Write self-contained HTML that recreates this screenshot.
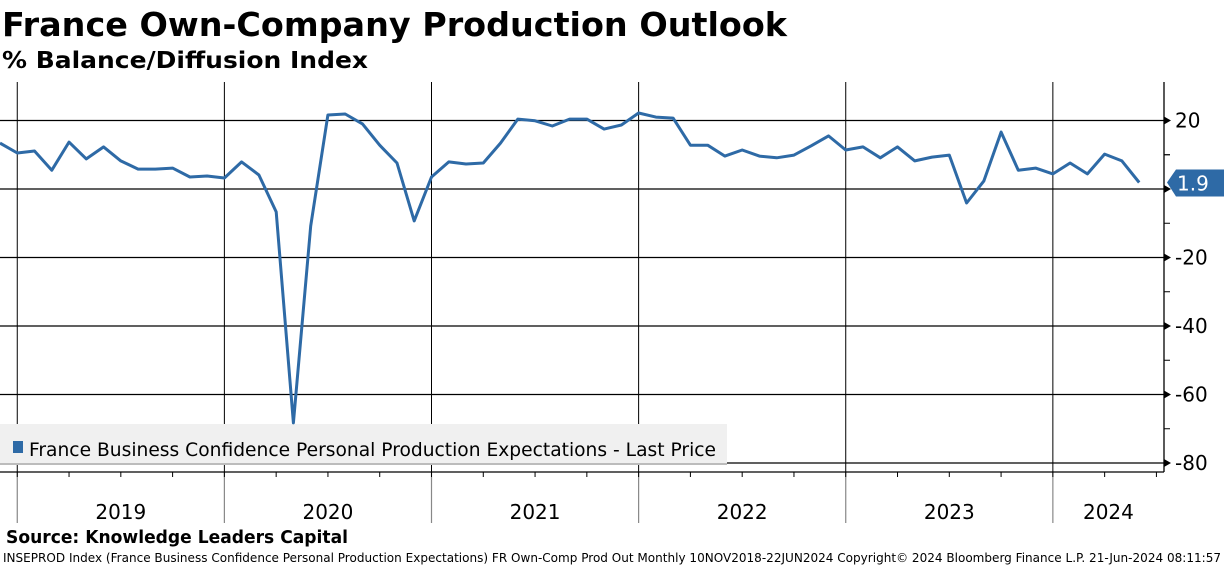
<!DOCTYPE html>
<html><head><meta charset="utf-8"><style>
html,body{margin:0;padding:0;background:#fff;}
svg{display:block;font-family:"DejaVu Sans","Liberation Sans",sans-serif;}
</style></head><body>
<svg id="chart" width="1224" height="566" viewBox="0 0 1224 566" xmlns="http://www.w3.org/2000/svg">
<text x="2" y="36" font-size="33" font-weight="bold" textLength="785" lengthAdjust="spacingAndGlyphs">France Own-Company Production Outlook</text>
<text x="2" y="68" font-size="23" font-weight="bold" textLength="366" lengthAdjust="spacingAndGlyphs">% Balance/Diffusion Index</text>
<g id="grid"></g>
<g id="axes"></g>
<rect x="0" y="424" width="727" height="41" fill="#f0f0f0"/>
<line x1="0" y1="464" x2="727" y2="464" stroke="#888" stroke-width="1"/>
<rect x="13" y="441" width="10" height="12" fill="#2e6aa6"/>
<text x="29" y="456" font-size="19" textLength="687" lengthAdjust="spacingAndGlyphs">France Business Confidence Personal Production Expectations - Last Price</text>
<g id="series"></g>
<text x="6" y="543" font-size="18" font-weight="bold" textLength="342" lengthAdjust="spacingAndGlyphs">Source: Knowledge Leaders Capital</text>
<text x="3" y="562" font-size="12" textLength="1218" lengthAdjust="spacingAndGlyphs">INSEPROD Index (France Business Confidence Personal Production Expectations) FR Own-Comp Prod Out  Monthly 10NOV2018-22JUN2024   Copyright© 2024 Bloomberg Finance L.P.    21-Jun-2024 08:11:57</text>
</svg>
<script>
const values = [13.4,10.5,11.1,5.5,13.7,8.8,12.3,8.2,5.8,5.8,6.1,3.5,3.8,3.2,7.9,4.1,-6.7,-68.3,-10.8,21.6,21.9,19.0,12.8,7.6,-9.3,3.5,7.9,7.3,7.6,13.4,20.4,19.9,18.4,20.4,20.4,17.5,18.7,22.2,21.0,20.7,12.8,12.8,9.6,11.4,9.6,9.1,9.9,12.6,15.5,11.4,12.3,9.1,12.3,8.2,9.3,9.9,-4.1,2.3,16.6,5.5,6.1,4.4,7.6,4.4,10.2,8.2,1.9];
const years = ["2019","2020","2021","2022","2023","2024"];
const yearStartIndex = [1,13,25,37,49,61];
const yTicks = [20,0,-20,-40,-60,-80];
const lastLabel = "1.9";

const NS = "http://www.w3.org/2000/svg";
const X0 = 0, DX = 17.26, PLOT_R = 1164, PLOT_T = 82, PLOT_B = 472;
const xOf = i => X0 + i*DX;
const yOf = v => 189 - v*3.425;
function mk(tag, attrs, parent){const e=document.createElementNS(NS,tag);for(const k in attrs)e.setAttribute(k,attrs[k]);parent.appendChild(e);return e;}
const grid=document.getElementById('grid'), axes=document.getElementById('axes'), series=document.getElementById('series');
const lastV = values[values.length-1];

yTicks.forEach(t=>{
  const l=mk('line',{x1:0,x2:PLOT_R,y1:yOf(t),y2:yOf(t),stroke:'#000','stroke-width':1.3},grid);
  
  
  const tri=mk('path',{d:`M${PLOT_R} ${yOf(t)-4} L${PLOT_R+7} ${yOf(t)} L${PLOT_R} ${yOf(t)+4}Z`,fill:'#000'},axes);
  
  
  if (Math.abs(t-lastV) > 8) {
    const tx=mk('text',{x:PLOT_R+11,y:yOf(t)+7,'font-size':20},axes);
    tx.textContent=t;
    
    
  }
  if (yOf(t-10) < PLOT_B) {
    const m=mk('line',{x1:PLOT_R,x2:PLOT_R+6,y1:yOf(t-10),y2:yOf(t-10),stroke:'#000','stroke-width':1},axes);
    
    
  }
});
const topMinor=mk('line',{x1:PLOT_R,x2:PLOT_R+6,y1:yOf(10),y2:yOf(10),stroke:'#000','stroke-width':1},axes);


yearStartIndex.forEach((idx,k)=>{
  const x=xOf(idx);
  const l=mk('line',{x1:x,x2:x,y1:PLOT_T,y2:PLOT_B,stroke:'#000','stroke-width':1},grid);
  
  
  const l2=mk('line',{x1:x,x2:x,y1:PLOT_B,y2:523,stroke:'#888','stroke-width':1.2},axes);
  
  
  const nx = k<years.length-1 ? xOf(yearStartIndex[k+1]) : PLOT_R;
  const tx=mk('text',{x:(x+nx)/2,y:519,'font-size':20,'text-anchor':'middle'},axes);
  tx.textContent=years[k];
  
  
});
for(let i=1;i<values.length+1;i+=3){
  const x=xOf(i);
  const q=mk('line',{x1:x,x2:x,y1:PLOT_B,y2:PLOT_B+5,stroke:'#000','stroke-width':1},axes);
  
  
}
const ax1=mk('line',{x1:PLOT_R,x2:PLOT_R,y1:PLOT_T,y2:PLOT_B,stroke:'#000','stroke-width':1.3},axes);


const ax2=mk('line',{x1:0,x2:PLOT_R,y1:PLOT_B,y2:PLOT_B,stroke:'#000','stroke-width':1.3},axes);



const pts=values.map((v,i)=>xOf(i).toFixed(1)+','+yOf(v).toFixed(1)).join(' ');
const pl=mk('polyline',{points:pts,fill:'none',stroke:'#2e6aa6','stroke-width':3,'stroke-linejoin':'round'},series);



const ly=yOf(lastV);
const tag=mk('path',{d:`M1167 ${ly} L1176 ${ly-13} L1224 ${ly-13} L1224 ${ly+14} L1176 ${ly+14}Z`,fill:'#2e6aa6'},series);


const tt=mk('text',{x:1177,y:ly+8,'font-size':20,fill:'#fff'},series);
tt.textContent=lastLabel;


</script>
</body></html>
